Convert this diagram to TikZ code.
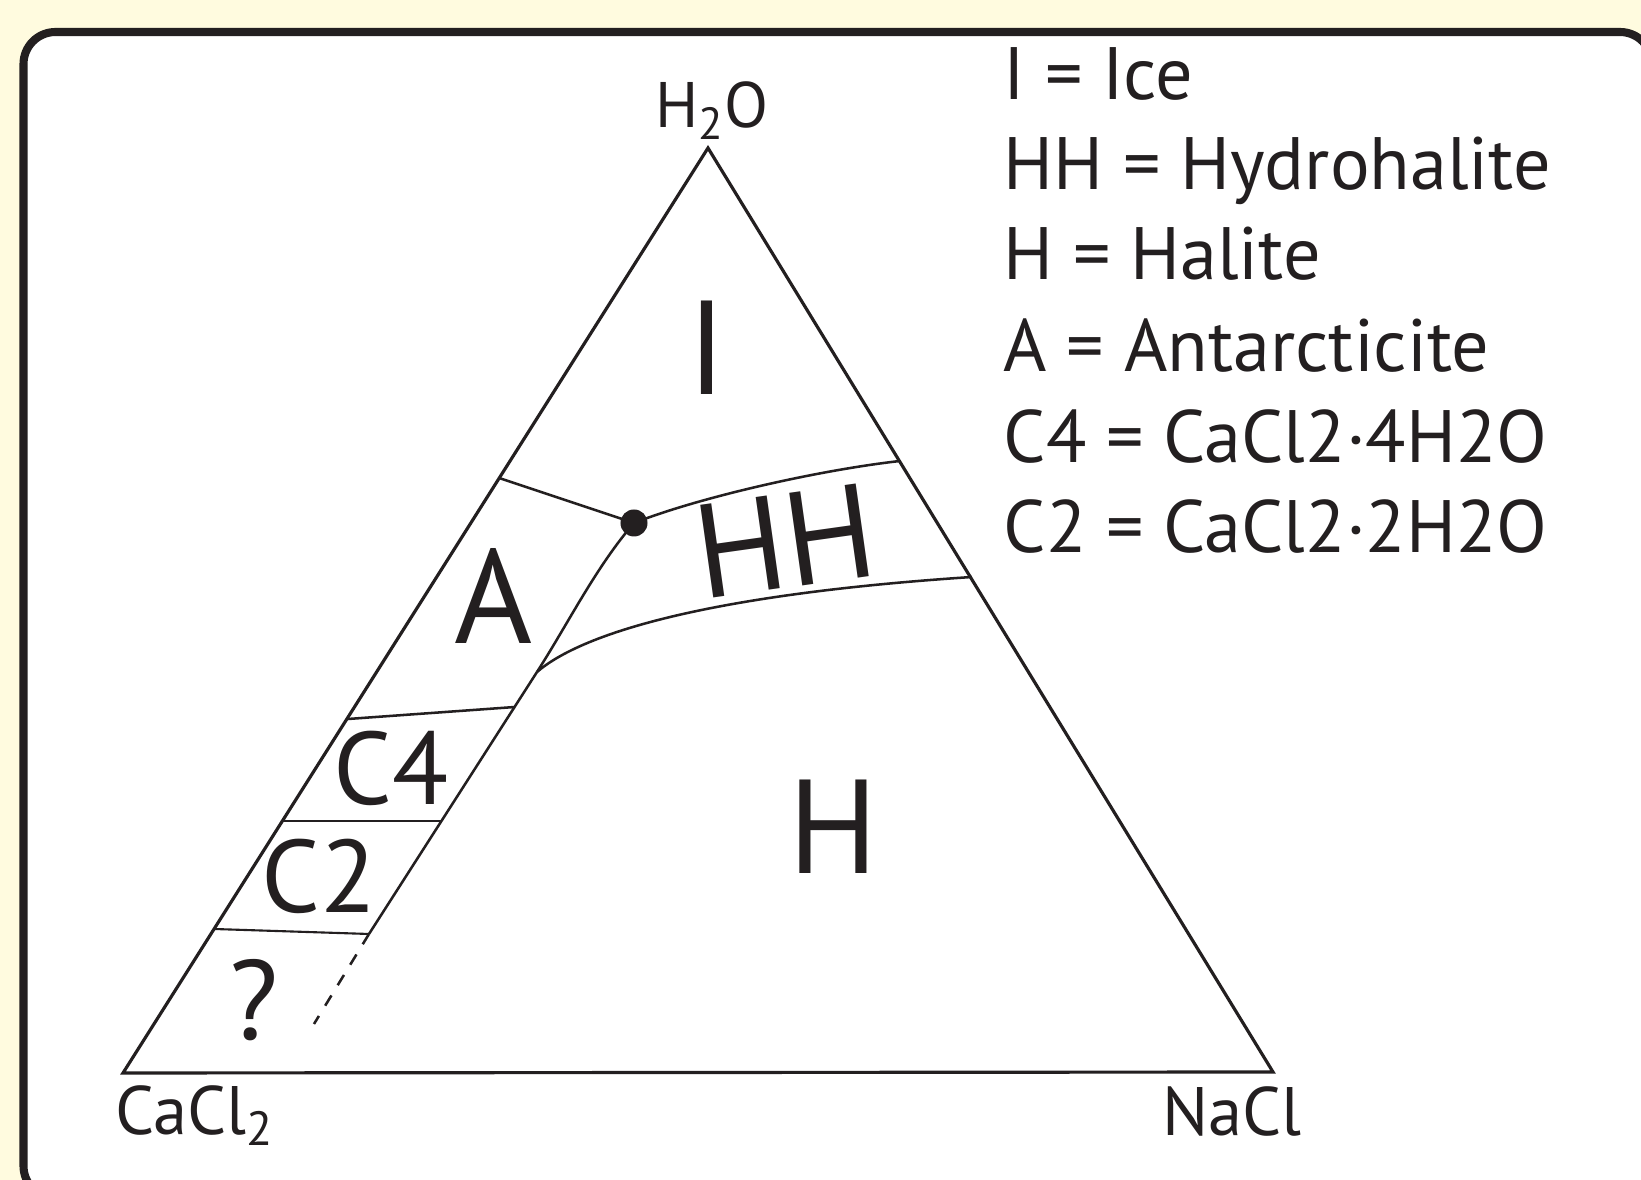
\documentclass[tikz,border=0pt]{standalone}
\usepackage{fontspec}
\setmainfont{PT Sans}
\definecolor{cream}{RGB}{255,251,223}
\definecolor{ink}{RGB}{35,31,32}
\begin{document}
\begin{tikzpicture}[x=0.01cm,y=-0.01cm,
  edge/.style={draw=ink,line width=0.9pt,line join=miter},
  bound/.style={draw=ink,line width=0.72pt},
  vlabel/.style={text=ink,inner sep=0pt,font=\fontsize{19.5}{22}\selectfont},
  biglabel/.style={text=ink,inner sep=0pt,font=\fontsize{38}{40}\selectfont},
  midlabel/.style={text=ink,inner sep=0pt,font=\fontsize{29.3}{32}\selectfont},
  legend/.style={text=ink,inner sep=0pt,anchor=base west,font=\fontsize{21.1}{24}\selectfont}]
\fill[cream] (0,0) rectangle (1641,1180);
\useasboundingbox (0,0) rectangle (1641,1180);
\draw[fill=white,draw=ink,line width=2.3pt,rounded corners=0.32cm] (23.5,32) rectangle (1652,1198);
% triangle corners
\coordinate (T) at (708,148);
\coordinate (L) at (123,1073);
\coordinate (R) at (1273,1072);
% boundary points
\coordinate (IA) at (499,478);
\coordinate (D) at (634,523);
\coordinate (IHH) at (900,461);
\coordinate (HHH) at (972,577);
\coordinate (K) at (537,672);
\coordinate (C4a) at (348,719);
\coordinate (C4b) at (515,707);
\coordinate (C2a) at (282,821);
\coordinate (C2b) at (442,821);
\coordinate (Qa) at (214,929);
\coordinate (Qb) at (369,934);
\coordinate (E) at (314,1024);
% triangle
\draw[edge] (L) -- (T) -- (R) -- cycle;
% phase boundaries
\draw[bound] (IA) -- (D);
\draw[bound] (D) .. controls (700,497) and (820,470) .. (IHH);
\draw[bound] (D) .. controls (596,567) and (569,622) .. (K);
\draw[bound] (K) .. controls (580,635) and (700,595) .. (HHH);
\draw[bound] (K) -- (Qb);
\draw[bound] (C4a) -- (C4b);
\draw[bound] (C2a) -- (C2b);
\draw[bound,line width=0.6pt] (Qa) -- (Qb);
\draw[bound,dash pattern=on 0.12cm off 0.12cm] (Qb) -- (E);
\node[circle,fill=ink,inner sep=0pt,minimum size=0.27cm] (dot) at (D) {};
% vertex labels
\node[vlabel,anchor=base,font=\fontsize{18.3}{20}\selectfont] (h2o) at (712,128) {H\textsubscript{2}O};
\node[vlabel,anchor=base west] (cacl) at (115,1135) {CaCl\textsubscript{2}};
\node[vlabel,anchor=base] (nacl) at (1232,1136) {NaCl};
% field labels
\node[biglabel,anchor=base] (lI) at (707,395) {I};
\node[biglabel,anchor=base] (lA) at (494,644) {A};
\node[biglabel,anchor=base] (lH) at (833,874) {H};
\node[biglabel,anchor=center,rotate=8] (lHH) at (785,541) {HH};
\node[midlabel,anchor=base] (lC4) at (391,805) {C4};
\node[midlabel,anchor=base] (lC2) at (319,913) {C2};
\node[midlabel,anchor=base,font=\fontsize{32}{34}\selectfont] (lQ) at (254,1040) {?};
% legend
\node[legend] (k1) at (1003,100) {I = Ice};
\node[legend] (k2) at (1003,190) {HH = Hydrohalite};
\node[legend] (k3) at (1003,280) {H = Halite};
\node[legend] (k4) at (1003,372) {A = Antarcticite};
\node[legend] (k5) at (1003,463) {C4 = CaCl2·4H2O};
\node[legend] (k6) at (1003,553) {C2 = CaCl2·2H2O};
\end{tikzpicture}
\end{document}
